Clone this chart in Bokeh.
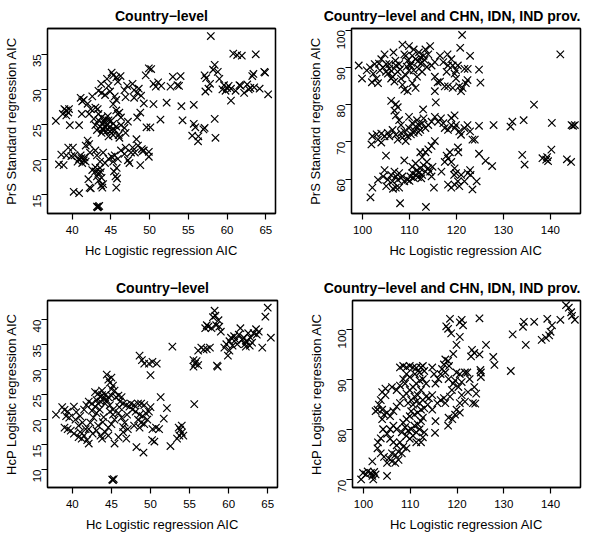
import math
from bokeh.plotting import figure
from bokeh.layouts import column, row
from bokeh.models import Range1d, FixedTicker, LinearAxis
from bokeh.embed import file_html
from bokeh.resources import INLINE

# ---------------- data ----------------
# Panel 1: country-level, Hc logistic AIC vs PrS standard AIC
p1_pts = [
    (57.9,37.6),(60.8,35.1),(61.3,34.9),(61.9,34.8),(63.7,35.0),(64.8,32.5),(64.9,32.4),(65.3,29.3),(64.2,30.1),(63.25,31.9),(63.4,32.2),
    (57.1,32.0),(57.3,31.6),(57.2,29.7),(58.4,33.5),(58.2,32.8),(58.8,32.5),(59.0,31.5),(59.6,30.6),(60.0,30.2),(60.5,30.1),(61.1,29.8),
    (60.5,28.4),(61.75,30.5),(62.6,30.7),(63.0,30.2),(62.8,30.0),(62.2,29.5),(59.4,30.0),(60.2,30.5),(61.6,30.6),(63.5,30.3),(57.6,30.1),
    (57.8,30.8),(59.8,29.8),
    (55.7,25.1),(55.9,24.6),(55.5,23.4),(56.3,23.3),(56.25,22.6),(56.95,24.3),(57.1,24.5),(58.4,25.8),(58.5,23.1),(55.7,27.8),
    (54.1,27.6),(54.25,25.6),(53.6,30.6),(53.8,30.5),(54.0,31.9),(53.0,31.8),(52.7,30.4),(52.2,28.1),(51.4,25.7),(50.5,27.9),(50.2,32.9),
    (49.9,33.0),(49.5,32.0),(50.5,30.8),(50.8,30.4),(51.1,31.0),(51.5,30.5),(50.1,24.6),(49.6,24.6),
    (47.8,30.8),(48.0,29.9),(48.4,29.5),(48.6,30.1),(48.9,29.1),(49.25,28.0),(48.0,28.8),(46.9,28.9),(46.75,29.9),(47.1,30.5),(48.8,26.7),
    (48.4,26.0),(48.3,22.9),(48.5,22.0),(49.0,21.5),(48.1,21.0),(49.1,21.2),(48.8,19.2),(49.9,21.1),(49.9,20.4),(49.25,21.3),
    (45.1,32.4),(45.3,32.0),(45.7,31.7),(46.25,31.9),(45.9,31.1),(44.5,31.5),(44.7,30.5),(43.75,30.8),(43.4,29.8),(43.8,29.5),(44.25,29.2),
    (44.9,29.7),(45.5,29.0),(45.7,28.5),(45.3,27.9),(43.3,27.2),(43.0,27.4),(41.5,28.5),(41.1,28.8),(41.3,28.3),(42.0,27.95),(42.6,29.0),
    (43.4,26.5),(43.8,26.0),(44.25,25.8),(44.7,25.6),(44.0,25.1),(44.5,24.9),(44.9,24.7),(43.6,24.7),(45.1,24.2),(45.3,23.5),(44.7,23.3),
    (44.0,24.2),(45.3,25.1),(45.7,24.7),(45.9,26.5),(45.7,27.0),(43.0,24.9),(42.8,25.8),(43.2,24.2),(43.8,23.8),(44.25,24.6),(44.9,24.0),
    (45.5,24.2),(43.4,25.6),(46.3,24.9),(46.75,24.5),(47.2,25.4),(46.9,23.8),(46.1,26.7),(46.3,26.0),(42.2,26.5),(42.4,27.2),(44.6,26.2),
    (44.1,25.4),(45.0,25.5),(44.4,24.0),(43.9,24.4),
    (39.2,27.0),(39.5,26.7),(39.25,26.3),(38.8,26.5),(39.6,27.2),(39.0,27.2),(37.9,25.5),(39.7,24.9),(40.9,24.9),(41.25,26.5),
    (42.0,22.7),(42.2,22.2),(41.75,22.0),(41.1,20.6),(40.9,20.1),(41.5,19.9),(41.75,19.7),(41.3,19.5),(40.7,19.7),(40.3,20.6),(39.9,20.5),
    (39.25,20.6),(39.5,21.7),(40.1,21.7),(38.6,20.7),(38.9,19.2),(38.3,19.3),(42.1,17.2),(42.25,16.0),(41.2,20.2),(41.6,20.3),
    (42.6,18.5),(43.0,18.3),(43.4,18.1),(43.2,17.6),(43.6,18.8),(43.8,17.4),(43.4,17.0),(43.75,16.3),(44.0,16.5),(43.9,16.0),(43.6,19.7),
    (43.2,20.6),(44.25,19.5),(44.7,20.1),(45.1,20.4),(44.0,21.0),(43.0,21.3),(42.3,21.0),(43.0,18.9),(43.7,18.2),
    (43.2,13.3),(43.4,13.3),(43.5,13.4),(43.3,13.2),
    (40.2,15.4),(40.9,15.2),(42.4,15.9),
    (45.5,20.6),(45.9,20.1),(45.3,19.7),(45.75,18.8),(45.4,18.3),(45.6,17.6),(45.8,17.3),(45.7,16.0),(46.3,21.3),(46.75,20.8),(47.2,19.9),
    (47.4,19.5),(47.6,21.0),(46.9,21.7),(47.8,21.7),(46.1,23.1),(46.0,23.5),
]
p1_hc = [a for a, b in p1_pts]
p1_prs = [b for a, b in p1_pts]

# Panel 2: country-level and CHN, IDN, IND provinces, Hc vs PrS
p2_pts = [
    (121.2,98.7),(120.8,95.25),(122.9,93.1),(124.8,89.4),(125.1,85.9),(142.1,93.5),
    (99.2,90.5),(99.9,87.0),(100.9,89.2),(101.6,90.0),(102.3,88.3),(102.6,90.9),(103.0,87.0),(103.3,85.75),(104.0,92.2),(104.7,93.5),
    (105.05,90.9),(105.7,89.6),(105.4,88.3),(106.4,87.5),(106.8,86.2),(107.1,90.5),(107.0,91.8),(107.8,90.9),(106.6,94.0),(107.5,88.8),
    (105.7,90.9),(104.4,90.0),(103.7,89.2),(106.1,87.0),(108.2,87.0),(108.5,85.3),(108.9,84.0),(109.6,83.6),(109.2,87.9),(109.9,89.2),
    (110.2,90.5),(109.6,91.8),(108.9,93.5),(108.5,96.1),(109.9,95.7),(110.9,94.8),(110.6,93.1),(111.3,92.2),(112.0,94.0),(112.3,92.7),
    (112.7,91.4),(113.0,93.1),(113.4,94.8),(114.0,93.5),(114.4,95.7),(113.7,90.1),(112.7,88.8),(112.0,89.6),(110.9,89.2),(111.6,87.5),
    (111.3,84.5),(110.6,85.75),(109.2,93.1),(114.7,90.5),(115.4,91.4),(116.5,93.1),(117.2,91.4),(117.9,88.8),(118.2,90.5),(118.1,93.5),
    (118.9,92.2),(119.2,90.5),(119.6,88.3),(119.9,89.2),(120.3,90.5),(119.9,87.0),(120.6,84.9),(120.97,83.6),(121.3,84.5),(122.0,85.75),
    (122.35,86.6),(119.2,84.5),(118.2,84.9),(117.5,84.9),(116.5,86.2),(115.4,87.5),(116.0,86.0),(115.4,83.6),(122.4,89.6),(121.7,89.6),
    (112.5,91.0),(111.8,91.6),(110.4,91.2),(109.4,90.2),(108.0,89.5),(106.2,89.0),(105.0,88.8),(103.5,91.0),(102.0,86.0),(113.2,92.0),
    (106.1,81.0),(107.1,80.1),(106.8,78.4),(107.1,77.1),(107.5,79.3),(115.6,80.6),(112.9,78.7),(118.9,76.4),(119.6,77.1),(119.9,74.5),
    (136.5,80.0),(127.9,74.5),(131.5,74.1),(131.9,75.4),(134.3,75.8),(140.3,75.1),(144.5,74.5),(144.8,74.3),(145.2,74.5),(124.8,74.3),
    (101.9,69.3),(102.1,71.5),(103.3,70.6),(104.0,69.8),(104.7,71.5),(105.4,72.4),(105.7,71.5),(106.4,73.2),(107.1,71.9),(107.5,70.6),
    (108.2,72.4),(108.5,71.1),(109.2,70.2),(109.6,71.5),(108.9,72.8),(109.9,73.7),(110.6,75.0),(111.3,74.1),(111.6,75.8),(112.0,74.5),
    (112.3,73.2),(110.9,72.4),(112.7,75.0),(113.0,76.3),(113.4,73.7),(114.0,74.5),(114.7,75.4),(115.4,76.7),(116.1,75.4),(116.7,76.3),
    (117.2,75.0),(117.5,73.7),(118.2,73.2),(118.9,74.5),(119.6,73.7),(120.6,72.8),(120.97,71.9),(121.7,73.7),(122.35,74.5),(122.9,72.8),
    (123.4,70.6),(123.9,70.6),(115.4,70.2),(114.7,68.9),(114.0,68.0),(113.4,67.2),(112.7,65.9),(112.3,67.2),(105.0,66.3),(108.9,65.0),
    (109.9,76.7),(108.2,74.5),(107.8,75.8),(111.0,73.0),(110.3,72.0),(111.9,72.6),(104.0,72.2),(103.0,72.0),
    (101.7,55.1),(102.1,57.7),(103.3,59.8),(104.4,60.7),(104.7,62.4),(105.4,59.8),(105.05,58.1),(106.1,61.1),(106.4,59.4),(106.8,62.0),
    (107.1,60.7),(107.5,59.8),(107.1,57.7),(107.8,57.7),(108.2,60.3),(107.8,61.6),(108.5,60.7),(108.9,59.4),(109.6,59.8),(110.2,60.7),
    (110.6,61.6),(110.9,60.3),(111.3,61.1),(111.6,62.4),(112.0,61.6),(112.3,62.9),(112.7,61.1),(113.0,63.7),(113.4,62.0),(113.7,64.6),
    (114.0,62.9),(114.4,62.0),(114.9,63.3),(114.7,60.7),(111.3,64.2),(110.6,63.3),(108.0,53.5),(113.5,52.5),(115.2,57.7),(116.8,62.0),
    (117.5,64.6),(117.9,66.3),(118.2,65.5),(118.6,67.2),(118.9,64.6),(119.6,62.9),(119.5,61.1),(119.9,61.6),(120.3,68.5),(120.4,67.2),
    (118.2,58.5),(118.9,57.7),(119.6,58.5),(120.3,59.4),(120.6,58.1),(121.0,61.1),(121.7,59.4),(122.4,61.6),(122.9,62.4),(123.0,61.1),
    (123.4,57.2),(124.3,59.4),(124.8,66.8),(126.2,64.9),(127.6,63.5),(134.0,66.5),(134.5,63.9),(138.3,65.6),(139.1,65.2),(139.3,65.9),
    (139.5,64.8),(140.2,67.9),(143.5,65.3),(144.4,64.6),(111.8,60.5),(112.5,60.2),(110.0,59.5),(106.5,57.4),
]
p2_hc = [a for a, b in p2_pts]
p2_prs = [b for a, b in p2_pts]

# Panel 3: country-level, Hc vs HcP logistic AIC
p3_pts = [
    (45.1,8.0),(45.2,7.9),(45.3,8.1),
    (65.0,42.4),(64.7,40.6),(65.4,36.4),(64.3,34.4),
    (58.2,41.8),(58.3,40.8),(58.0,40.5),(58.7,39.9),(58.4,38.9),(58.8,38.6),(59.0,37.6),(57.2,38.9),(57.0,38.3),(57.4,38.6),(57.8,38.3),
    (56.1,33.8),(56.5,34.4),(56.8,34.0),(57.2,34.1),(57.6,34.4),(58.5,30.8),(58.6,30.6),
    (59.45,34.4),(59.7,35.1),(60.1,35.7),(60.3,36.4),(60.7,36.7),(60.9,36.0),(61.3,37.0),(61.5,38.3),(61.95,36.4),(62.25,35.7),(62.5,37.3),
    (62.8,36.4),(63.0,35.4),(62.7,34.8),(63.2,37.3),(63.5,38.1),(63.85,37.6),(63.6,37.0),(62.2,34.6),(59.9,32.8),(60.1,33.8),(60.5,34.8),
    (61.75,36.0),(61.1,35.1),(62.1,35.1),
    (52.8,34.6),
    (55.5,31.9),(55.7,31.2),(55.9,31.7),(55.5,30.6),(56.1,30.9),
    (55.6,23.1),
    (48.6,32.8),(48.9,31.9),(49.2,31.2),(49.8,31.2),(50.25,31.55),(50.8,31.2),(50.0,28.9),
    (51.3,24.5),(52.1,22.3),(51.7,20.2),(52.55,14.7),
    (53.6,18.4),(53.8,18.0),(54.0,18.8),(53.7,16.8),(54.0,17.4),(53.4,16.2),(54.2,16.8),
    (50.25,18.1),(50.7,18.4),(51.1,18.1),(50.5,15.6),(50.2,15.9),
    (48.2,14.5),(49.1,13.4),
    (37.9,21.0),(38.7,22.5),(39.0,21.95),(39.4,21.6),(39.2,20.7),(39.6,20.4),(39.0,18.4),(39.4,18.1),(39.8,17.8),(40.2,17.2),(40.8,16.5),
    (41.2,16.2),(41.5,16.8),(41.9,15.9),(42.1,15.2),(41.3,19.4),(41.0,20.7),(41.5,22.0),(41.8,22.9),(42.1,23.6),(42.5,23.2),(42.9,22.6),
    (43.1,21.3),(42.7,20.4),(42.3,19.4),(42.1,18.1),(42.6,17.2),(43.1,17.8),(43.3,18.8),(43.6,16.8),(43.8,16.2),(44.2,17.5),(44.6,18.4),
    (45.0,19.1),(45.4,20.0),(45.2,21.0),(45.9,21.3),(46.3,20.4),(46.7,19.4),(47.1,18.1),(46.5,17.5),(46.9,16.2),(45.4,15.2),(45.9,16.5),
    (44.6,16.8),
    (42.9,25.5),(43.3,25.2),(43.6,24.5),(43.8,24.9),(44.0,24.2),(44.2,24.9),(44.4,23.9),(44.6,24.5),(44.2,23.2),(43.6,23.6),(43.1,23.9),
    (43.8,25.8),(43.3,23.2),(44.8,22.9),(45.2,22.0),(44.8,21.6),
    (44.4,29.0),(44.6,28.0),(45.0,28.4),(44.8,27.4),(45.2,26.8),(45.0,26.1),(45.4,25.8),(45.0,24.8),(45.6,24.5),(45.9,24.8),(46.3,24.5),
    (46.1,23.6),(46.5,23.2),(46.9,22.9),(47.3,22.6),(47.5,23.2),(47.9,22.9),(48.4,23.2),(48.8,23.2),(49.2,22.9),(47.7,22.0),(48.1,21.6),
    (48.6,21.0),(49.0,20.7),(49.4,21.3),(49.8,21.6),(50.0,22.5),(48.4,20.0),(48.8,19.4),(47.9,18.8),(48.6,18.4),(49.2,19.1),(49.6,20.0),
    (40.8,18.8),(40.4,20.0),(41.7,18.1),(40.2,22.6),
    (43.5,22.0),(44.0,20.5),(43.9,19.5),(42.5,21.8),(41.0,17.5),(40.5,21.5),(46.0,22.5),(47.0,21.0),(46.5,18.5),
]
p3_hc = [a for a, b in p3_pts]
p3_hcp = [b for a, b in p3_pts]

# Panel 4: country-level and CHN, IDN, IND provinces, Hc vs HcP
p4_pts = [
    (143.3,104.8),(143.9,104.3),(144.4,103.4),(144.6,102.7),(145.2,101.9),
    (142.1,101.9),(140.3,100.8),(139.3,102.1),(139.7,98.8),(140.0,99.5),(139.0,98.3),(138.1,97.9),(136.5,101.5),(134.3,101.5),(134.1,100.5),
    (134.7,96.9),(131.9,99.0),(131.5,91.7),
    (127.75,94.5),(128.0,92.9),(126.2,96.9),(124.8,102.2),
    (121.0,101.9),(121.3,100.8),(120.6,101.4),(118.5,102.1),(117.7,100.6),(118.1,100.1),(118.75,99.2),
    (120.6,98.5),(119.9,96.9),(119.2,95.1),
    (123.2,95.9),(123.7,95.3),(124.8,95.0),(123.0,94.6),
    (125.0,91.9),(125.1,91.4),(125.1,90.5),
    (123.7,88.5),(124.1,87.2),(123.4,85.3),(123.9,85.2),
    (122.35,87.5),(122.7,90.1),(122.2,91.4),(121.7,91.4),(121.0,89.5),(120.6,91.1),(119.9,91.4),(119.6,89.8),(120.3,88.5),(121.0,86.9),
    (121.7,85.6),(120.6,85.3),(119.9,84.0),(120.6,83.4),(119.6,83.0),(119.0,82.1),(118.2,82.4),(118.1,80.8),(118.5,86.6),(118.9,87.9),
    (119.2,89.2),(118.2,90.1),(117.5,91.4),(117.2,93.0),(117.5,94.0),(118.1,93.7),(118.3,92.7),(116.8,92.1),(116.5,91.1),(116.0,90.1),
    (115.4,89.2),(115.1,91.1),(114.7,92.4),(113.0,79.5),(115.3,79.4),(115.4,81.7),(114.7,84.0),(115.8,85.3),(116.5,85.9),(117.2,86.3),
    (117.5,85.3),
    (107.8,92.4),(108.5,92.7),(109.2,92.4),(109.9,92.7),(110.6,92.4),(111.3,92.3),(112.3,92.4),(112.7,92.7),(113.0,91.7),(112.0,91.4),
    (111.0,91.1),(109.9,90.5),(109.2,91.1),(108.5,90.1),(108.9,89.2),(107.8,88.8),(107.1,87.9),(106.1,88.5),(104.7,88.2),(104.0,87.5),
    (104.7,86.9),(103.7,85.9),(103.3,85.0),(104.0,84.0),(103.0,84.0),(102.6,83.7),(104.4,83.0),(105.05,83.4),(105.7,82.7),(106.4,83.7),
    (107.1,84.6),(107.8,85.3),(108.5,86.6),(109.2,87.2),(109.9,87.9),(110.6,88.5),(111.3,89.2),(112.0,89.8),(112.7,90.1),(113.4,89.2),
    (112.3,87.9),(111.6,86.9),(110.9,86.6),(110.2,85.9),(109.55,85.3),(110.6,85.0),(111.3,85.6),(112.0,85.3),(112.7,85.9),(113.4,86.6),
    (114.0,86.3),(114.7,86.9),(113.75,85.0),(113.0,84.3),(112.3,84.0),(111.6,83.4),(110.9,83.0),(110.2,83.7),(109.9,82.7),(109.2,82.1),
    (108.5,81.4),(108.9,80.5),(109.55,79.8),(110.2,80.1),(110.9,80.8),(111.6,81.1),(112.3,81.7),(112.7,82.4),(112.0,80.1),(111.3,79.5),
    (110.6,78.8),(109.9,78.2),(109.2,78.8),(108.2,79.5),(107.1,80.1),(106.4,80.8),(105.7,80.1),(105.05,79.2),(105.7,78.2),(106.4,77.5),
    (107.1,76.9),(107.8,77.5),(108.5,76.6),(109.2,76.3),(108.2,75.3),(107.5,75.6),(106.8,75.0),(106.1,75.3),(105.4,74.3),(106.1,73.7),
    (106.8,73.4),(107.5,74.0),(105.05,73.4),(104.4,74.6),(103.7,75.3),(103.0,76.3),(103.1,77.5),(103.7,78.3),(104.2,80.1),(104.0,82.1),
    (101.9,73.7),(105.05,70.8),(100.55,71.1),(99.5,70.1),(99.9,71.4),(100.9,71.7),(101.6,71.4),(101.9,70.8),(102.3,71.6),(102.1,70.1),
    (102.6,71.1),(111.3,77.5),(112.3,77.5),(112.7,78.5),
]
p4_hc = [a for a, b in p4_pts]
p4_hcp = [b for a, b in p4_pts]

FONT = "Liberation Sans"
XLAB = "Hc Logistic regression AIC"


def make(width, height, borders, xr, yr, xticks, yticks, ylabel, title, talign, xs, ys):
    bl, br, bt, bb = borders
    p = figure(width=width, height=height,
               x_range=Range1d(*xr), y_range=Range1d(*yr),
               output_backend="svg", toolbar_location=None,
               min_border_left=bl, min_border_right=br,
               min_border_top=bt, min_border_bottom=bb,
               background_fill_color="white", border_fill_color="white")
    p.title.text = title
    p.title.align = talign
    p.title.text_font = FONT
    p.title.text_font_size = "14px"
    p.title.text_font_style = "bold"
    p.title.text_color = "black"
    p.title.standoff = 10
    p.grid.visible = False
    p.outline_line_color = "black"
    p.outline_line_width = 1.3
    p.xaxis.ticker = FixedTicker(ticks=xticks)
    p.yaxis.ticker = FixedTicker(ticks=yticks)
    p.xaxis.axis_label = XLAB
    p.yaxis.axis_label = ylabel
    for ax in (p.xaxis[0], p.yaxis[0]):
        ax.axis_line_color = "black"
        ax.axis_line_width = 1.3
        ax.major_tick_out = 6
        ax.major_tick_in = 0
        ax.major_tick_line_color = "black"
        ax.major_tick_line_width = 1.2
        ax.minor_tick_line_color = None
        ax.major_label_text_font = FONT
        ax.major_label_text_font_size = "11.5px"
        ax.major_label_text_color = "black"
        ax.axis_label_text_font = FONT
        ax.axis_label_text_font_size = "13px"
        ax.axis_label_text_font_style = "normal"
        ax.axis_label_text_color = "black"
    p.xaxis.major_label_standoff = 6
    p.xaxis.axis_label_standoff = 6
    p.yaxis.major_label_standoff = 4
    p.yaxis.axis_label_standoff = 8
    p.yaxis.major_label_orientation = math.pi / 2
    # top and right edges of R's box(): bare axes with lines only
    for side in ("above", "right"):
        ax = LinearAxis(ticker=FixedTicker(ticks=[]), axis_line_color="black", axis_line_width=1.3,
                        major_tick_out=0, major_tick_in=0, minor_tick_out=0, minor_tick_in=0,
                        major_label_standoff=0, major_label_text_font_size="1px",
                        minor_tick_line_color=None, major_tick_line_color=None)
        p.add_layout(ax, side)
    p.scatter(xs, ys, marker="x", size=10.5, line_color="black", line_width=1.2)
    return p


W, H = 292, 267
p1 = make(W, H, (46, 17, 26, 53), (36.82, 66.25), (12.31, 38.68),
          [40, 45, 50, 55, 60, 65], [15, 20, 25, 30, 35],
          "PrS Standard regression AIC", "Country\u2212level", "center", p1_hc, p1_prs)
p2 = make(W, H, (59, 4, 27, 54), (97.66, 146.4), (50.75, 100.44),
          [100, 110, 120, 130, 140], [60, 70, 80, 90, 100],
          "PrS Standard regression AIC", "Country\u2212level and CHN, IDN, IND prov.", "right", p2_hc, p2_prs)
p3 = make(W, H, (46, 15, 32, 46), (36.82, 66.25), (6.41, 43.84),
          [40, 45, 50, 55, 60, 65], [10, 15, 20, 25, 30, 35, 40],
          "HcP Logistic regression AIC", "Country\u2212level", "center", p3_hc, p3_hcp)
p4 = make(W, H, (60, 4, 33, 47), (97.66, 146.4), (68.5, 105.74),
          [100, 110, 120, 130, 140], [70, 80, 90, 100],
          "HcP Logistic regression AIC", "Country\u2212level and CHN, IDN, IND prov.", "right", p4_hc, p4_hcp)

layout = column(row(p1, p2), row(p3, p4))
open("out.html", "w").write(file_html(layout, INLINE))
